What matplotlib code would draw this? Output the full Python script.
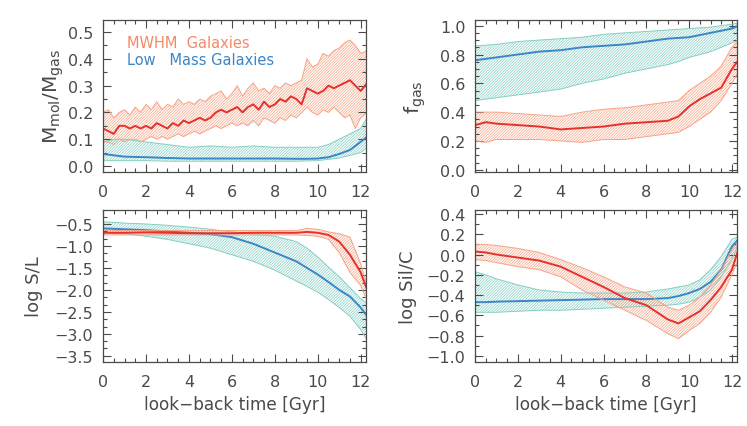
"""
Four-panel evolution plot: MWHM vs low-mass galaxies against look-back time.
"""

import matplotlib

matplotlib.use("Agg")
import matplotlib.pyplot as plt
from matplotlib.ticker import MultipleLocator

plt.rcParams["font.family"] = ["DejaVu Sans"]
plt.rcParams["hatch.linewidth"] = 0.5

TEXT = "#4a4a4a"
RED_LINE = "#e5322c"
RED_HATCH = "#f6a386"
BLUE_LINE = "#3a86c6"
TEAL_HATCH = "#84cfc3"

# ---- data ----
t_fine = [0.0, 0.25, 0.5, 0.75, 1.0, 1.25, 1.5, 1.75, 2.0, 2.25, 2.5, 2.75,
          3.0, 3.25, 3.5, 3.75, 4.0, 4.25, 4.5, 4.75, 5.0, 5.25, 5.5, 5.75,
          6.0, 6.25, 6.5, 6.75, 7.0, 7.25, 7.5, 7.75, 8.0, 8.25, 8.5, 8.75,
          9.0, 9.25, 9.5, 9.75, 10.0, 10.25, 10.5, 10.75, 11.0, 11.25, 11.5,
          11.75, 12.0, 12.3]
t_coarse = [0.0, 0.5, 1.0, 2.0, 3.0, 4.0, 5.0, 6.0, 7.0, 8.0, 9.0, 9.5,
            10.0, 10.5, 11.0, 11.5, 12.0, 12.3]

# Mmol/Mgas
mw_mol_med = [0.14, 0.13, 0.12, 0.15, 0.15, 0.14, 0.15, 0.14, 0.15, 0.14,
              0.16, 0.15, 0.14, 0.16, 0.15, 0.17, 0.16, 0.17, 0.18, 0.17,
              0.18, 0.20, 0.21, 0.20, 0.21, 0.22, 0.20, 0.22, 0.23, 0.21,
              0.24, 0.22, 0.23, 0.25, 0.24, 0.26, 0.25, 0.23, 0.29, 0.28,
              0.27, 0.28, 0.30, 0.29, 0.30, 0.31, 0.32, 0.30, 0.28, 0.31]
mw_mol_hi = [0.20, 0.21, 0.18, 0.20, 0.21, 0.19, 0.22, 0.20, 0.23, 0.21,
             0.24, 0.21, 0.23, 0.22, 0.25, 0.23, 0.24, 0.23, 0.25, 0.24,
             0.26, 0.27, 0.28, 0.25, 0.27, 0.30, 0.26, 0.29, 0.31, 0.28,
             0.29, 0.27, 0.30, 0.29, 0.31, 0.30, 0.31, 0.32, 0.40, 0.37,
             0.38, 0.42, 0.41, 0.43, 0.44, 0.46, 0.47, 0.45, 0.42, 0.43]
mw_mol_lo = [0.09, 0.09, 0.08, 0.10, 0.09, 0.10, 0.10, 0.09, 0.10, 0.11,
             0.10, 0.11, 0.10, 0.11, 0.12, 0.11, 0.12, 0.13, 0.12, 0.13,
             0.14, 0.15, 0.14, 0.15, 0.16, 0.15, 0.16, 0.15, 0.17, 0.15,
             0.18, 0.17, 0.16, 0.18, 0.17, 0.19, 0.18, 0.20, 0.22, 0.20,
             0.19, 0.21, 0.20, 0.22, 0.20, 0.18, 0.19, 0.14, 0.18, 0.20]
lm_mol_med = [0.045, 0.040, 0.035, 0.033, 0.030, 0.028, 0.028, 0.028, 0.028,
              0.028, 0.027, 0.027, 0.028, 0.033, 0.045, 0.060, 0.090, 0.110]
lm_mol_hi = [0.090, 0.100, 0.100, 0.090, 0.080, 0.070, 0.075, 0.070, 0.075,
             0.070, 0.070, 0.070, 0.070, 0.080, 0.100, 0.120, 0.140, 0.180]
lm_mol_lo = [0.020, 0.020, 0.020, 0.020, 0.018, 0.018, 0.018, 0.018, 0.018,
             0.018, 0.018, 0.019, 0.020, 0.025, 0.030, 0.040, 0.050, 0.070]

# f_gas
mw_fgas_med = [0.31, 0.33, 0.32, 0.31, 0.30, 0.28, 0.29, 0.30, 0.32, 0.33,
               0.34, 0.37, 0.44, 0.49, 0.53, 0.57, 0.70, 0.76]
mw_fgas_hi = [0.40, 0.40, 0.40, 0.39, 0.38, 0.37, 0.40, 0.42, 0.43, 0.45,
              0.47, 0.48, 0.55, 0.60, 0.65, 0.72, 0.85, 0.90]
mw_fgas_lo = [0.20, 0.19, 0.21, 0.21, 0.21, 0.20, 0.19, 0.21, 0.21, 0.23,
              0.25, 0.26, 0.30, 0.35, 0.40, 0.48, 0.60, 0.68]
lm_fgas_med = [0.76, 0.77, 0.78, 0.80, 0.82, 0.83, 0.85, 0.86, 0.87, 0.89,
               0.91, 0.915, 0.92, 0.935, 0.95, 0.965, 0.98, 1.00]
lm_fgas_hi = [0.86, 0.865, 0.87, 0.89, 0.90, 0.91, 0.92, 0.94, 0.95, 0.96,
              0.97, 0.975, 0.98, 0.985, 0.99, 1.00, 1.01, 1.02]
lm_fgas_lo = [0.48, 0.49, 0.50, 0.52, 0.54, 0.56, 0.60, 0.63, 0.67, 0.70,
              0.73, 0.75, 0.78, 0.80, 0.82, 0.85, 0.88, 0.90]

# log S/L
mw_sl_med = [-0.70, -0.70, -0.70, -0.69, -0.70, -0.71, -0.71, -0.71, -0.70,
             -0.70, -0.70, -0.68, -0.70, -0.75, -0.90, -1.20, -1.60, -2.00]
mw_sl_hi = [-0.65, -0.65, -0.65, -0.65, -0.65, -0.65, -0.65, -0.65, -0.65,
            -0.65, -0.65, -0.60, -0.62, -0.68, -0.72, -0.80, -1.40, -1.90]
mw_sl_lo = [-0.75, -0.75, -0.75, -0.75, -0.75, -0.75, -0.75, -0.75, -0.75,
            -0.75, -0.75, -0.76, -0.78, -0.85, -1.15, -1.60, -1.90, -2.25]
lm_sl_med = [-0.60, -0.61, -0.62, -0.64, -0.67, -0.70, -0.73, -0.80, -0.95,
             -1.15, -1.35, -1.50, -1.65, -1.82, -2.00, -2.15, -2.40, -2.60]
lm_sl_hi = [-0.45, -0.46, -0.48, -0.50, -0.53, -0.57, -0.62, -0.68, -0.73,
            -0.78, -0.90, -1.05, -1.25, -1.48, -1.70, -1.95, -2.20, -2.30]
lm_sl_lo = [-0.70, -0.71, -0.72, -0.78, -0.85, -0.95, -1.05, -1.20, -1.35,
            -1.55, -1.80, -1.92, -2.05, -2.22, -2.40, -2.60, -2.90, -3.15]

# log Sil/C
mw_sc_med = [0.03, 0.02, 0.00, -0.03, -0.06, -0.12, -0.22, -0.32, -0.43,
             -0.50, -0.64, -0.68, -0.62, -0.56, -0.45, -0.32, -0.15, 0.05]
mw_sc_hi = [0.10, 0.10, 0.09, 0.06, 0.02, -0.05, -0.13, -0.22, -0.32, -0.38,
            -0.52, -0.55, -0.50, -0.42, -0.30, -0.15, 0.05, 0.12]
mw_sc_lo = [-0.05, -0.06, -0.08, -0.12, -0.15, -0.22, -0.35, -0.45, -0.55,
            -0.65, -0.78, -0.83, -0.75, -0.68, -0.57, -0.42, -0.20, -0.05]
lm_sc_med = [-0.47, -0.47, -0.465, -0.46, -0.455, -0.45, -0.445, -0.44, -0.44,
             -0.44, -0.43, -0.41, -0.38, -0.34, -0.27, -0.15, 0.08, 0.15]
lm_sc_hi = [-0.17, -0.20, -0.24, -0.30, -0.35, -0.37, -0.38, -0.38, -0.38,
            -0.37, -0.34, -0.32, -0.30, -0.25, -0.15, -0.02, 0.15, 0.18]
lm_sc_lo = [-0.57, -0.57, -0.57, -0.56, -0.55, -0.55, -0.54, -0.53, -0.52,
            -0.51, -0.50, -0.49, -0.47, -0.42, -0.35, -0.22, -0.05, 0.10]


def band(ax, t, lo, hi, med, hatch_color, line_color):
    ax.fill_between(t, lo, hi, facecolor="none", edgecolor=hatch_color,
                    hatch="/" * 12, linewidth=0)
    ax.plot(t, lo, color=hatch_color, lw=0.7)
    ax.plot(t, hi, color=hatch_color, lw=0.7)
    ax.plot(t, med, color=line_color, lw=1.4)


def style(ax, ylim, ymajor, yminor, ylabel, label_x, xlabel=None):
    ax.set_xlim(0, 12.25)
    ax.set_ylim(*ylim)
    ax.xaxis.set_major_locator(MultipleLocator(2))
    ax.xaxis.set_minor_locator(MultipleLocator(0.5))
    ax.yaxis.set_major_locator(MultipleLocator(ymajor))
    ax.yaxis.set_minor_locator(MultipleLocator(yminor))
    ax.tick_params(which="both", direction="in", top=True, right=True,
                   colors=TEXT, labelsize=11.5, width=0.8)
    ax.tick_params(which="major", length=6)
    ax.tick_params(axis="y", which="major", pad=7)
    ax.tick_params(axis="x", which="major", pad=9)
    ax.tick_params(which="minor", length=3)
    for side in ax.spines.values():
        side.set_color(TEXT)
        side.set_linewidth(0.9)
    ax.set_ylabel(ylabel, fontsize=13, color=TEXT)
    ax.yaxis.set_label_coords(label_x, 0.5)
    if xlabel:
        ax.set_xlabel(xlabel, fontsize=12.2, color=TEXT, labelpad=4)


fig = plt.figure(figsize=(7.47, 4.27), dpi=100)
ax_tl = fig.add_axes([0.138, 0.595, 0.352, 0.356])
ax_tr = fig.add_axes([0.636, 0.595, 0.351, 0.356])
ax_bl = fig.add_axes([0.138, 0.150, 0.352, 0.356])
ax_br = fig.add_axes([0.636, 0.150, 0.351, 0.356])

band(ax_tl, t_fine, mw_mol_lo, mw_mol_hi, mw_mol_med, RED_HATCH, RED_LINE)
band(ax_tl, t_coarse, lm_mol_lo, lm_mol_hi, lm_mol_med, TEAL_HATCH, BLUE_LINE)
style(ax_tl, (-0.022, 0.545), 0.1, 0.05,
      r"M$_{\rm mol}$/M$_{\rm gas}$", -0.14)
ax_tl.yaxis.label.set_fontsize(14.5)
ax_tl.text(0.09, 0.85, "MWHM  Galaxies", transform=ax_tl.transAxes,
           color="#f08a68", fontsize=10.5, va="center")
ax_tl.text(0.09, 0.74, "Low   Mass Galaxies", transform=ax_tl.transAxes,
           color=BLUE_LINE, fontsize=10.5, va="center")

band(ax_tr, t_coarse, lm_fgas_lo, lm_fgas_hi, lm_fgas_med, TEAL_HATCH, BLUE_LINE)
band(ax_tr, t_coarse, mw_fgas_lo, mw_fgas_hi, mw_fgas_med, RED_HATCH, RED_LINE)
style(ax_tr, (-0.015, 1.04), 0.2, 0.05, r"f$_{\rm gas}$", -0.18)
ax_tr.yaxis.label.set_fontsize(14.5)

band(ax_bl, t_coarse, lm_sl_lo, lm_sl_hi, lm_sl_med, TEAL_HATCH, BLUE_LINE)
band(ax_bl, t_coarse, mw_sl_lo, mw_sl_hi, mw_sl_med, RED_HATCH, RED_LINE)
style(ax_bl, (-3.64, -0.18), 0.5, 0.5 / 3, "log S/L", -0.23,
      "look\u2212back time [Gyr]")

band(ax_br, t_coarse, lm_sc_lo, lm_sc_hi, lm_sc_med, TEAL_HATCH, BLUE_LINE)
band(ax_br, t_coarse, mw_sc_lo, mw_sc_hi, mw_sc_med, RED_HATCH, RED_LINE)
style(ax_br, (-1.06, 0.44), 0.2, 0.1, "log Sil/C", -0.22,
      "look\u2212back time [Gyr]")

fig.savefig("out.png", dpi=100)
plt.close(fig)
